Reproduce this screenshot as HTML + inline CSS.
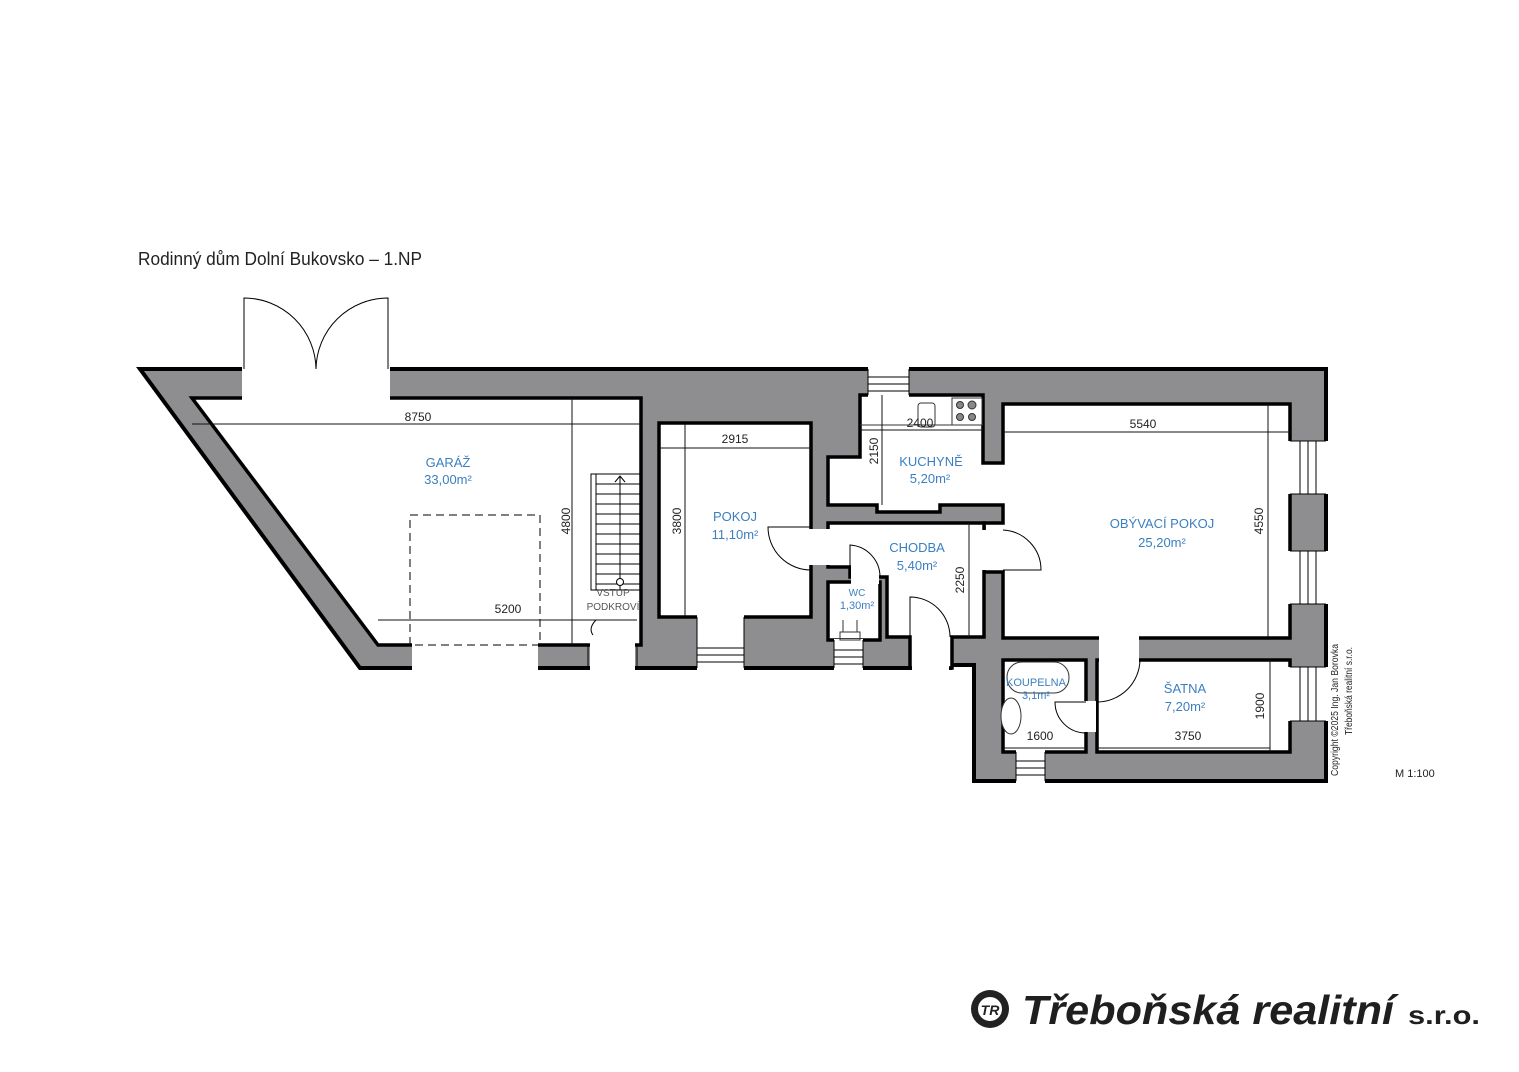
<!DOCTYPE html>
<html><head><meta charset="utf-8"><style>
html,body{margin:0;padding:0;background:#fff;width:1519px;height:1072px;overflow:hidden}
svg{display:block}
.t{font-family:"Liberation Sans",sans-serif;}
.b{fill:#3b7fc0;font-family:"Liberation Sans",sans-serif;font-size:13px;text-anchor:middle}
.d{fill:#222;font-family:"Liberation Sans",sans-serif;font-size:12px;text-anchor:middle}
.dl{stroke:#111;stroke-width:1;fill:none}
.r{fill:#fff;stroke:#000;stroke-width:3.5;stroke-linejoin:miter}
.o{fill:#fff;stroke:none}
.j{stroke:#000;stroke-width:1;fill:none}
</style></head><body>
<svg width="1519" height="1072" viewBox="0 0 1519 1072" xmlns="http://www.w3.org/2000/svg">
<text x="138" y="265" class="t" font-size="18" fill="#222" textLength="284" lengthAdjust="spacingAndGlyphs">Rodinný dům Dolní Bukovsko – 1.NP</text>

<!-- outer gray mass -->
<polygon points="140,369 1326,369 1326,781 974,781 974,665 950,665 950,668 360,668" fill="#8e8e90" stroke="#000" stroke-width="4" stroke-linejoin="miter"/>

<!-- rooms -->
<polygon class="r" points="192,398 641,398 641,645 378,645"/>
<rect class="r" x="659" y="423" width="152" height="194"/>
<polygon class="r" points="860,395 983,395 983,463 1003,463 1003,404 1290,404 1290,638 1003,638 1003,572 984,572 984,523 1003,523 1003,505 940,505 940,512 877,512 877,505 828,505 828,457 860,457"/>
<polygon class="r" points="828,523 984,523 984,637 952,637 952,668 910,668 910,637 887,637 887,577 850,577 850,567 828,567"/>
<rect class="r" x="828" y="582" width="52" height="58"/>
<rect class="r" x="1003" y="660" width="83" height="92"/>
<rect class="r" x="1097" y="660" width="193" height="92"/>

<!-- openings -->
<rect class="o" x="242" y="364" width="148" height="36"/>
<rect class="o" x="412" y="642" width="126" height="30"/>
<rect class="o" x="590" y="642" width="45" height="30"/>
<rect class="o" x="697" y="615" width="47" height="57"/>
<rect class="o" x="834" y="639" width="29" height="33"/>
<rect class="o" x="912" y="634" width="37" height="38"/>
<rect class="o" x="868" y="364" width="41" height="33"/>
<rect class="o" x="807" y="529" width="25" height="36"/>
<rect class="o" x="851" y="565" width="28" height="19"/>
<rect class="o" x="982" y="530" width="23" height="40"/>
<rect class="o" x="1099" y="636" width="40" height="26"/>
<rect class="o" x="1084" y="701" width="12" height="31"/>
<rect class="o" x="1288" y="441" width="40" height="53"/>
<rect class="o" x="1288" y="551" width="40" height="53"/>
<rect class="o" x="1288" y="667" width="40" height="54"/>
<rect class="o" x="1016" y="750" width="29" height="33"/>
<rect class="o" x="1005" y="525" width="0" height="0"/>

<!-- opening jambs/window lines -->
<g stroke="#000" stroke-width="1" fill="none">
<path d="M697,617V668M744,617V668M697,648H744M697,655H744M697,662H744"/>
<path d="M834,640V668M863,640V668M834,650H863M834,657H863M834,664H863"/>
<path d="M868,369V395M909,369V395M868,377H909M868,384H909M868,391H909"/>
<path d="M1290,441H1326M1290,494H1326M1300,441V494M1308,441V494M1316,441V494"/>
<path d="M1290,551H1326M1290,604H1326M1300,551V604M1308,551V604M1316,551V604"/>
<path d="M1290,667H1326M1290,721H1326M1300,667V721M1308,667V721M1316,667V721"/>
<path d="M1016,752V781M1045,752V781M1016,761H1045M1016,768H1045M1016,775H1045"/>
<!-- doors -->
<path d="M244,369V298A72,72 0 0 1 316,369M388,369V298A72,72 0 0 0 316,369"/>
<path d="M811,527H768A43,43 0 0 0 811,570"/>
<path d="M850,577V545A32,32 0 0 1 880,577"/>
<path d="M910,637V597A40,40 0 0 1 950,637"/>
<path d="M1003,570H1041A40,40 0 0 0 1003,530"/>
<path d="M1097,702A43,43 0 0 0 1140,660"/>
<path d="M1086,702H1055A31,31 0 0 0 1086,733"/>
<path d="M588,645V668M637,645V668M593,635Q588,628 596,620"/>
</g>
<rect x="410" y="515" width="130" height="130" fill="none" stroke="#000" stroke-width="1" stroke-dasharray="8,5"/>

<!-- stairs -->
<g stroke="#000" stroke-width="1" fill="none">
<rect x="591" y="474" width="50" height="116"/>
<path d="M596,474V590M596,484H641M596,494H641M596,504H641M596,514H641M596,524H641M596,534H641M596,544H641M596,554H641M596,564H641M596,574H641M596,584H641"/>
<path d="M620,590V476M615,482L620,476L625,482"/>
<circle cx="620" cy="582" r="3.5" fill="#fff"/>
</g>

<!-- fixtures -->
<g stroke="#333" stroke-width="1" fill="#fff">
<rect x="952" y="398" width="30" height="27"/>
<circle cx="960" cy="405" r="3.5" fill="#888"/><circle cx="972" cy="405" r="4" fill="#888"/>
<circle cx="960" cy="417" r="3.5" fill="#888"/><circle cx="972" cy="417" r="3.5" fill="#888"/>
<rect x="918" y="403" width="17" height="24" rx="3"/>
<rect x="1007" y="662" width="62" height="31" rx="15"/>
<ellipse cx="1011" cy="716" rx="10" ry="18"/>
<path d="M843,620V632H857V620M840,632H860V640H840Z" fill="none"/>
<path d="M860,425H983" fill="none"/>
</g>

<!-- dimensions -->
<g class="dl">
<path d="M192,424H641M572,398V645M378,620H637M659,448H811M685,423V617M860,430H983M882,395V505M1003,432H1290M1268,404V637M969,523V637M1270,660V752M1003,748H1086M1097,748H1270"/>
</g>
<g class="d">
<text x="418" y="421">8750</text>
<text x="508" y="613">5200</text>
<text x="735" y="443">2915</text>
<text x="920" y="427">2400</text>
<text x="1143" y="428">5540</text>
<text x="1040" y="740">1600</text>
<text x="1188" y="740">3750</text>
<text transform="translate(570,521) rotate(-90)">4800</text>
<text transform="translate(681,521) rotate(-90)">3800</text>
<text transform="translate(878,451) rotate(-90)">2150</text>
<text transform="translate(1263,521) rotate(-90)">4550</text>
<text transform="translate(964,580) rotate(-90)">2250</text>
<text transform="translate(1264,706) rotate(-90)">1900</text>
</g>

<!-- labels -->
<g class="b">
<text x="448" y="467">GARÁŽ</text><text x="448" y="484">33,00m²</text>
<text x="735" y="521">POKOJ</text><text x="735" y="539">11,10m²</text>
<text x="931" y="466">KUCHYNĚ</text><text x="930" y="483">5,20m²</text>
<text x="917" y="552">CHODBA</text><text x="917" y="570">5,40m²</text>
<text x="857" y="596" font-size="10">WC</text><text x="857" y="609" font-size="11">1,30m²</text>
<text x="1162" y="528">OBÝVACÍ POKOJ</text><text x="1162" y="547">25,20m²</text>
<text x="1036" y="686" font-size="11">KOUPELNA</text><text x="1036" y="699" font-size="11">3,1m²</text>
<text x="1185" y="693">ŠATNA</text><text x="1185" y="711">7,20m²</text>
</g>
<g class="t" fill="#555" font-size="10" text-anchor="middle">
<text x="613" y="596">VSTUP</text><text x="613" y="610">PODKROVÍ</text>
</g>
<g class="t" fill="#222" font-size="10">
<text transform="translate(1338,776) rotate(-90)" textLength="132" lengthAdjust="spacingAndGlyphs">Copyright ©2025 Ing. Jan Borovka</text>
<text transform="translate(1352,735) rotate(-90)" textLength="88" lengthAdjust="spacingAndGlyphs">Třeboňská realitní s.r.o.</text>
<text x="1395" y="777" font-size="11">M 1:100</text>
</g>

<!-- logo -->
<g>
<circle cx="990" cy="1009" r="19" fill="#222"/>
<circle cx="990" cy="1009" r="13" fill="#fff" stroke="#222" stroke-width="2"/>
<text x="990" y="1015" class="t" font-size="14" font-weight="bold" font-style="italic" fill="#222" text-anchor="middle">TR</text>
<text x="1022" y="1024" class="t" font-size="41" font-weight="bold" font-style="italic" fill="#1f1f1f" textLength="372" lengthAdjust="spacingAndGlyphs">Třeboňská realitní</text>
<text x="1408" y="1024" class="t" font-size="26" font-weight="bold" fill="#1f1f1f" textLength="72" lengthAdjust="spacingAndGlyphs">s.r.o.</text>
</g>
</svg>
</body></html>
